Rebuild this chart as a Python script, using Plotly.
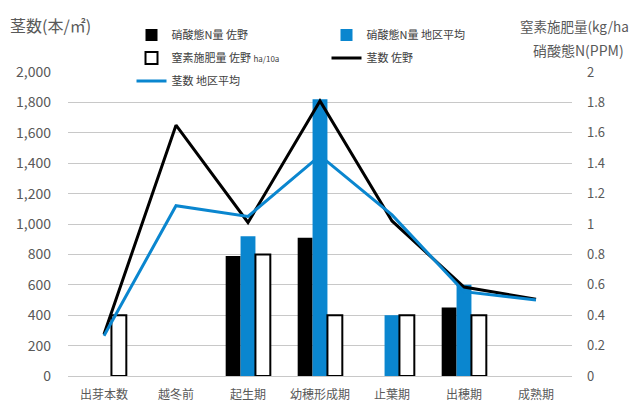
import plotly.graph_objects as go

categories = ["出芽本数", "越冬前", "起生期", "幼穂形成期", "止葉期", "出穂期", "成熟期"]
no3_sano = [None, None, 0.79, 0.91, None, 0.45, None]
no3_avg = [None, None, 0.92, 1.82, 0.40, 0.60, None]
n_fert_sano = [0.40, None, 0.80, 0.40, 0.40, 0.40, None]
stems_sano = [275, 1650, 1010, 1810, 1020, 585, 505]
stems_avg = [265, 1120, 1050, 1450, 1060, 555, 500]

BLUE = "#0A86CF"
GRAY = "#595959"
FONT = "Noto Sans CJK JP"

# paper geometry: paper spans y from 10px to 376px (366 px high)
PAPER_TOP = 10
PAPER_BOTTOM = 376
PH = PAPER_BOTTOM - PAPER_TOP


def py(px):
    return (PAPER_BOTTOM - px) / PH


def pxx(px):
    return (px - 68) / 504


fig = go.Figure()
fig.add_trace(go.Bar(x=categories, y=no3_sano, name="硝酸態N量 佐野", marker=dict(color="black", line=dict(width=0)), yaxis="y", legend="legend"))
fig.add_trace(go.Bar(x=categories, y=no3_avg, name="硝酸態N量 地区平均", marker=dict(color=BLUE, line=dict(width=0)), yaxis="y", legend="legend"))
fig.add_trace(go.Bar(x=categories, y=n_fert_sano, name="窒素施肥量 佐野 <span style='font-size:8px'>ha/10a</span>", marker=dict(color="white", line=dict(color="black", width=2)), yaxis="y", legend="legend2"))
fig.add_trace(go.Scatter(x=categories, y=stems_sano, name="茎数 佐野", mode="lines", line=dict(color="black", width=3), yaxis="y2", legend="legend2"))
fig.add_trace(go.Scatter(x=categories, y=stems_avg, name="茎数 地区平均", mode="lines", line=dict(color=BLUE, width=3), yaxis="y2", legend="legend3"))

leg_common = dict(orientation="h", xanchor="left", yanchor="middle", entrywidth=150, entrywidthmode="pixels",
                  font=dict(size=11, color="#404040", family=FONT), bgcolor="rgba(0,0,0,0)", itemwidth=30,
                  tracegroupgap=0, traceorder="normal")

dom_top = py(72)

fig.update_layout(
    width=640, height=401,
    margin=dict(l=68, r=68, t=PAPER_TOP, b=401 - PAPER_BOTTOM, autoexpand=False),
    paper_bgcolor="white", plot_bgcolor="white",
    font=dict(family=FONT, color=GRAY),
    barmode="group", bargap=0.38, bargroupgap=0,
    xaxis=dict(showgrid=False, showline=True, linecolor="#c8c8c8", linewidth=1, automargin=False,
               tickfont=dict(size=12, color=GRAY), ticks="", ticklabelstandoff=8),
    yaxis=dict(side="right", range=[0, 2], dtick=0.2, domain=[0, dom_top], showgrid=True,
               gridcolor="#c8c8c8", gridwidth=1, automargin=False,
               zeroline=False, tickfont=dict(size=13, color=GRAY), ticklabelstandoff=14),
    yaxis2=dict(side="left", overlaying="y", range=[0, 2000], dtick=200, tickformat=",", showgrid=False,
                automargin=False, zeroline=False, tickfont=dict(size=14, color=GRAY), ticklabelstandoff=16),
    legend=dict(x=0.126, y=py(35), **leg_common),
    legend2=dict(x=0.126, y=py(58), **leg_common),
    legend3=dict(x=0.126, y=py(81), **leg_common),
    annotations=[
        dict(text="茎数(本/㎡)", xref="paper", yref="paper", x=pxx(8), y=py(25), xanchor="left", yanchor="middle",
             showarrow=False, font=dict(size=16, color=GRAY, family=FONT)),
        dict(text="窒素施肥量(kg/ha", xref="paper", yref="paper", x=pxx(518), y=py(26), xanchor="left", yanchor="middle",
             showarrow=False, font=dict(size=13.5, color=GRAY, family=FONT)),
        dict(text="硝酸態N(PPM)", xref="paper", yref="paper", x=pxx(578), y=py(50), xanchor="center", yanchor="middle",
             showarrow=False, font=dict(size=14, color=GRAY, family=FONT)),
    ],
)

fig.write_html("out.html", config={"displayModeBar": False},
               post_script="document.body.style.margin='0';document.body.style.overflow='hidden';")
